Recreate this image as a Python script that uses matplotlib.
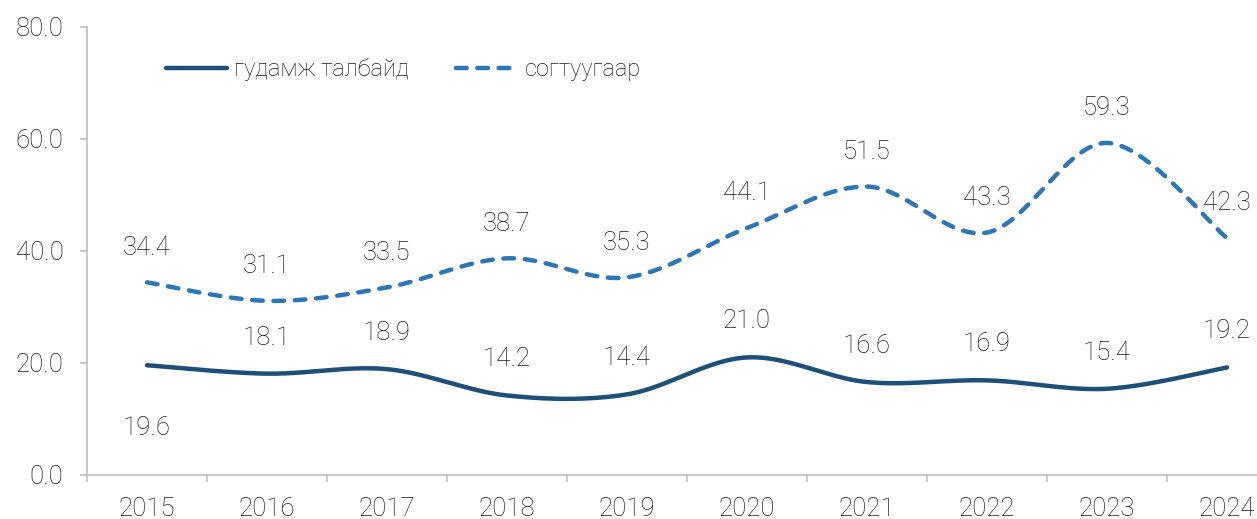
import numpy as np
import matplotlib.pyplot as plt
from matplotlib.lines import Line2D

plt.rcParams['font.family'] = ['Roboto', 'DejaVu Sans']

years = ['2015', '2016', '2017', '2018', '2019', '2020', '2021', '2022', '2023', '2024']
gudamj = [19.6, 18.1, 18.9, 14.2, 14.4, 21.0, 16.6, 16.9, 15.4, 19.2]
sogtuu = [34.4, 31.1, 33.5, 38.7, 35.3, 44.1, 51.5, 43.3, 59.3, 42.3]
# label below the point for these indices (solid series)
gudamj_below = [0]

c_solid = '#1F4E79'
c_dash = '#2E75B6'
c_axis = '#BFBFBF'
c_text = '#1a1a1a'


# Excel-like smoothed line: Catmull-Rom through the points, drawn as cubic Bezier
def smooth(xs, ys, n=40):
    p = np.column_stack([xs, ys]).astype(float)
    p = np.vstack([p[0], p, p[-1]])
    out = []
    for i in range(1, len(p) - 2):
        p0, p1, p2, p3 = p[i - 1], p[i], p[i + 1], p[i + 2]
        c1 = p1 + (p2 - p0) / 6
        c2 = p2 - (p3 - p1) / 6
        t = np.linspace(0, 1, n)[:, None]
        seg = ((1 - t) ** 3) * p1 + 3 * ((1 - t) ** 2) * t * c1 + 3 * (1 - t) * t ** 2 * c2 + t ** 3 * p2
        out.append(seg if i == 1 else seg[1:])
    out = np.vstack(out)
    return out[:, 0], out[:, 1]


fig = plt.figure(figsize=(12.57, 5.19), dpi=100)
ax = fig.add_axes([87 / 1257, 44 / 519, 1200 / 1257, 448 / 519])

x = np.arange(len(years))
sx, sy = smooth(x, gudamj)
ax.plot(sx, sy, color=c_solid, lw=3.2, solid_capstyle='round', zorder=3)
dx, dy = smooth(x, sogtuu)
ax.plot(dx, dy, color=c_dash, lw=3.2, dashes=(2.4, 2.4), dash_capstyle='round', zorder=3)

fs = 18.5
for i, v in enumerate(gudamj):
    off = -45 if i in gudamj_below else 26
    ax.annotate(f'{v:.1f}', (x[i], v), xytext=(0, off), textcoords='offset points',
                ha='center', va='center', fontsize=fs, fontweight='light', color=c_text)
for i, v in enumerate(sogtuu):
    ax.annotate(f'{v:.1f}', (x[i], v), xytext=(0, 25), textcoords='offset points',
                ha='center', va='center', fontsize=fs, fontweight='light', color=c_text)

ax.set_xlim(-0.5, 9.5)
ax.set_ylim(0, 80)
ax.set_yticks(np.arange(0, 81, 20))
ax.set_yticklabels([f'{v:.1f}' for v in np.arange(0, 81, 20)])
ax.set_xticks(x)
ax.set_xticklabels(years)
ax.set_xticks(np.arange(-0.5, 10, 1), minor=True)

for s in ['top', 'right']:
    ax.spines[s].set_visible(False)
for s in ['left', 'bottom']:
    ax.spines[s].set_color(c_axis)
    ax.spines[s].set_linewidth(1.2)

ax.tick_params(axis='y', length=5, width=1.2, color=c_axis, pad=12, labelsize=fs, labelcolor=c_text)
ax.tick_params(axis='x', which='major', length=0, pad=16, labelsize=fs, labelcolor=c_text)
ax.tick_params(axis='x', which='minor', length=5, width=1.2, color=c_axis)
for lab in ax.get_xticklabels() + ax.get_yticklabels():
    lab.set_fontweight('light')

handles = [Line2D([], [], color=c_solid, lw=3.2, solid_capstyle='round'),
           Line2D([], [], color=c_dash, lw=3.2, dashes=(2.4, 2.4), dash_capstyle='round')]
leg = ax.legend(handles, ['гудамж талбайд', 'согтуугаар'], ncol=2, frameon=False,
                loc='upper left', bbox_to_anchor=(0.048, 0.979), fontsize=17,
                handlelength=2.6, handletextpad=0.3, columnspacing=2.0)
for t in leg.get_texts():
    t.set_fontweight('light')
    t.set_color(c_text)

fig.savefig('out.png', dpi=100)
